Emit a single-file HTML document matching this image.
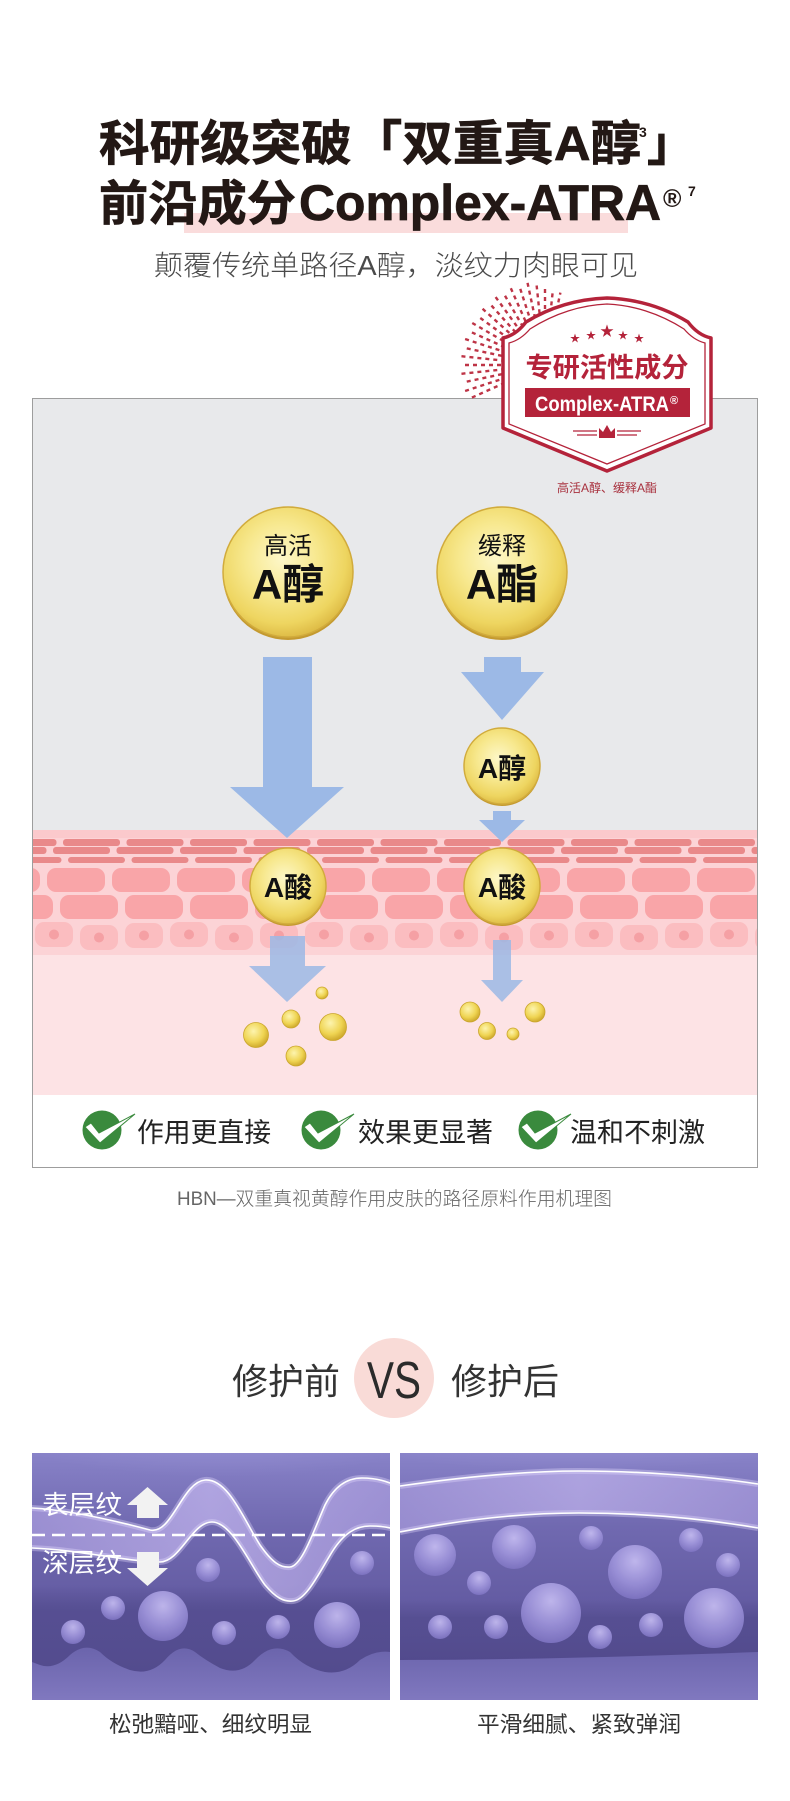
<!DOCTYPE html>
<html><head><meta charset="utf-8"><style>
html,body{margin:0;padding:0;background:#fff;}
body{width:790px;height:1801px;overflow:hidden;}
svg{display:block;}
</style></head><body>
<svg width="790" height="1801" viewBox="0 0 790 1801" xmlns="http://www.w3.org/2000/svg" font-family="'Liberation Sans','Noto Sans CJK SC',sans-serif">
<defs>
<radialGradient id="coin" cx="0.45" cy="0.4" r="0.62"><stop offset="0" stop-color="#fdf7c8"/><stop offset="0.45" stop-color="#f7e88e"/><stop offset="0.8" stop-color="#eed560"/><stop offset="1" stop-color="#dcb842"/></radialGradient>
<radialGradient id="drop" cx="0.4" cy="0.35" r="0.7"><stop offset="0" stop-color="#fdf4ae"/><stop offset="0.6" stop-color="#efd452"/><stop offset="1" stop-color="#c9a226"/></radialGradient>
<radialGradient id="bub" cx="0.5" cy="0.3" r="0.72"><stop offset="0" stop-color="#c6bdf2"/><stop offset="0.55" stop-color="#9d93da"/><stop offset="1" stop-color="#7c72c0"/></radialGradient>
<linearGradient id="bgP" x1="0" y1="0" x2="0" y2="1"><stop offset="0" stop-color="#8882c8"/><stop offset="0.3" stop-color="#7069b0"/><stop offset="0.62" stop-color="#635ba2"/><stop offset="0.8" stop-color="#6c65ad"/><stop offset="1" stop-color="#8078bf"/></linearGradient>
<linearGradient id="dark" x1="0" y1="0" x2="0" y2="1"><stop offset="0" stop-color="#514a8c" stop-opacity="0"/><stop offset="0.3" stop-color="#514a8c" stop-opacity="0.75"/><stop offset="1" stop-color="#4f4789" stop-opacity="0.9"/></linearGradient>
<linearGradient id="rib" x1="0" y1="0" x2="1" y2="0"><stop offset="0" stop-color="#a89bdc"/><stop offset="0.5" stop-color="#c0b3ec"/><stop offset="1" stop-color="#a89bdc"/></linearGradient>
<radialGradient id="glow" cx="0.5" cy="0" r="0.7"><stop offset="0" stop-color="#a6a0e0" stop-opacity="0.8"/><stop offset="1" stop-color="#a6a0e0" stop-opacity="0"/></radialGradient>
<pattern id="bricks" patternUnits="userSpaceOnUse" x="63" y="839" width="63.5" height="26">
<rect x="0" y="0" width="57" height="7" rx="3" fill="#e9898a"/>
<rect x="-10" y="8" width="57" height="7" rx="3" fill="#e9898a"/>
<rect x="53.5" y="8" width="57" height="7" rx="3" fill="#e9898a"/>
<rect x="5" y="18" width="57" height="6" rx="3" fill="#e9898a"/>
</pattern>
<pattern id="cells1" patternUnits="userSpaceOnUse" x="47" y="868" width="65" height="24"><rect x="0" y="0" width="58" height="24" rx="9" fill="#f9a5a8"/></pattern>
<pattern id="cells2" patternUnits="userSpaceOnUse" x="60" y="895" width="65" height="24"><rect x="0" y="0" width="58" height="24" rx="9" fill="#f9a5a8"/></pattern>
<pattern id="cells3" patternUnits="userSpaceOnUse" x="35" y="921" width="135" height="32">
<rect x="0" y="1" width="38" height="25" rx="9" fill="#fbbdc0"/><circle cx="19" cy="13.5" r="5" fill="#f5a0a4"/>
<rect x="45" y="4" width="38" height="25" rx="9" fill="#fbbdc0"/><circle cx="64" cy="16.5" r="5" fill="#f5a0a4"/>
<rect x="90" y="2" width="38" height="25" rx="9" fill="#fbbdc0"/><circle cx="109" cy="14.5" r="5" fill="#f5a0a4"/>
</pattern>
<clipPath id="cL"><rect x="32" y="1453" width="358" height="247"/></clipPath>
<clipPath id="cR"><rect x="400" y="1453" width="358" height="247"/></clipPath>
</defs>

<rect width="790" height="1801" fill="#fff"/>

<!-- Title -->
<g fill="#231815" stroke="#231815" stroke-width="0.7">
<text x="99" y="160" font-size="48" font-weight="700" textLength="542" lengthAdjust="spacingAndGlyphs">科研级突破「双重真A醇</text>
<text x="647" y="160" font-size="48" font-weight="700">」</text>
</g>
<text x="639" y="137" font-size="14" font-weight="700" fill="#231815">3</text>
<rect x="184" y="213" width="444" height="20" fill="#fadcdc"/>
<g fill="#231815" stroke="#231815" stroke-width="0.7">
<text x="99" y="220" font-size="48" font-weight="700" textLength="197" lengthAdjust="spacingAndGlyphs">前沿成分</text>
<text x="299" y="220" font-size="50" font-weight="700" textLength="362" lengthAdjust="spacingAndGlyphs">Complex-ATRA</text>
</g>
<text x="663" y="207" font-size="25" font-weight="700" fill="#231815">®</text>
<text x="688" y="196" font-size="14" font-weight="700" fill="#231815">7</text>
<text x="154" y="275" font-size="28" font-weight="300" fill="#4a4a4a" textLength="484" lengthAdjust="spacingAndGlyphs">颠覆传统单路径A醇，淡纹力肉眼可见</text>

<!-- Diagram box -->
<rect x="32" y="398" width="726" height="770" fill="#e8e9eb"/>
<rect x="32" y="830" width="726" height="130" fill="#fcd3d6"/>
<rect x="32" y="830" width="726" height="8" fill="#fbc9cc"/>
<rect x="32" y="955" width="726" height="140" fill="#fde3e5"/>
<rect x="32" y="839" width="726" height="26" fill="url(#bricks)"/>
<rect x="32" y="868" width="726" height="24" fill="url(#cells1)"/>
<rect x="32" y="895" width="726" height="24" fill="url(#cells2)"/>
<rect x="32" y="921" width="726" height="32" fill="url(#cells3)"/>
<rect x="32" y="1095" width="726" height="73" fill="#fff"/>
<rect x="32.5" y="398.5" width="725" height="769" fill="none" stroke="#9d9d9d" stroke-width="1"/>

<!-- Arrows -->
<g fill="#9cb9e6">
<rect x="263" y="657" width="49" height="132"/>
<polygon points="230,787 344,787 287,838"/>
<rect x="484" y="657" width="37" height="17"/>
<polygon points="461,672 544,672 502,720"/>
<rect x="493" y="811" width="18" height="11"/>
<polygon points="479,820 525,820 502,842"/>
</g>
<g fill="#9cb9e6" opacity="0.85">
<rect x="270" y="936" width="35" height="32"/>
<polygon points="249,966 326,966 287,1002"/>
<rect x="493" y="940" width="18" height="42"/>
<polygon points="481,980 523,980 502,1002"/>
</g>

<!-- Coins -->
<g stroke="#d1ab3c" stroke-width="1.5">
<circle cx="288" cy="575" r="65" fill="#c49a30" stroke="none"/>
<circle cx="288" cy="572" r="65" fill="url(#coin)"/>
<circle cx="502" cy="575" r="65" fill="#c49a30" stroke="none"/>
<circle cx="502" cy="572" r="65" fill="url(#coin)"/>
<circle cx="502" cy="768" r="38" fill="#c49a30" stroke="none"/>
<circle cx="502" cy="766" r="38" fill="url(#coin)"/>
<circle cx="288" cy="888" r="38" fill="#c49a30" stroke="none"/>
<circle cx="288" cy="886" r="38" fill="url(#coin)"/>
<circle cx="502" cy="888" r="38" fill="#c49a30" stroke="none"/>
<circle cx="502" cy="886" r="38" fill="url(#coin)"/>
</g>
<g fill="#111" text-anchor="middle">
<text x="288" y="554" font-size="24">高活</text>
<text x="288" y="599" font-size="42" font-weight="700">A醇</text>
<text x="502" y="554" font-size="24">缓释</text>
<text x="502" y="599" font-size="42" font-weight="700">A酯</text>
<text x="502" y="778" font-size="28" font-weight="700">A醇</text>
<text x="288" y="897" font-size="28" font-weight="700">A酸</text>
<text x="502" y="897" font-size="28" font-weight="700">A酸</text>
</g>

<!-- Droplets -->
<g fill="url(#drop)" stroke="#caa52c" stroke-width="0.8">
<circle cx="322" cy="993" r="6"/>
<circle cx="291" cy="1019" r="9"/>
<circle cx="256" cy="1035" r="12.5"/>
<circle cx="333" cy="1027" r="13.5"/>
<circle cx="296" cy="1056" r="10"/>
<circle cx="470" cy="1012" r="10"/>
<circle cx="535" cy="1012" r="10"/>
<circle cx="487" cy="1031" r="8.5"/>
<circle cx="513" cy="1034" r="6"/>
</g>

<!-- Checks -->
<g>
<g transform="translate(102 1130)"><circle r="19.5" fill="#3a8a3d"/><polygon points="-17,-3 -11,-7 -3,3 33,-16 -2,13" fill="#fff" stroke="#3a8a3d" stroke-width="1"/></g>
<g transform="translate(321 1130)"><circle r="19.5" fill="#3a8a3d"/><polygon points="-17,-3 -11,-7 -3,3 33,-16 -2,13" fill="#fff" stroke="#3a8a3d" stroke-width="1"/></g>
<g transform="translate(538 1130)"><circle r="19.5" fill="#3a8a3d"/><polygon points="-17,-3 -11,-7 -3,3 33,-16 -2,13" fill="#fff" stroke="#3a8a3d" stroke-width="1"/></g>
<g font-size="27" fill="#222">
<text x="137" y="1142" textLength="134" lengthAdjust="spacingAndGlyphs">作用更直接</text>
<text x="358" y="1142" textLength="135" lengthAdjust="spacingAndGlyphs">效果更显著</text>
<text x="570" y="1142" textLength="135" lengthAdjust="spacingAndGlyphs">温和不刺激</text>
</g>
</g>

<text x="177" y="1205" font-size="19" font-weight="300" fill="#666" textLength="435" lengthAdjust="spacingAndGlyphs">HBN—双重真视黄醇作用皮肤的路径原料作用机理图</text>

<!-- Badge burst -->
<g transform="translate(545 365)" stroke="#be3446" stroke-width="2.4">
<line x1="28" y1="0" x2="84" y2="0" stroke-dasharray="4 4" transform="rotate(156)"/>
<line x1="28" y1="0" x2="84" y2="0" stroke-dasharray="4 4" stroke-dashoffset="4" transform="rotate(162)"/>
<line x1="28" y1="0" x2="84" y2="0" stroke-dasharray="4 4" transform="rotate(168)"/>
<line x1="28" y1="0" x2="84" y2="0" stroke-dasharray="4 4" stroke-dashoffset="4" transform="rotate(174)"/>
<line x1="28" y1="0" x2="84" y2="0" stroke-dasharray="4 4" transform="rotate(180)"/>
<line x1="28" y1="0" x2="84" y2="0" stroke-dasharray="4 4" stroke-dashoffset="4" transform="rotate(186)"/>
<line x1="28" y1="0" x2="84" y2="0" stroke-dasharray="4 4" transform="rotate(192)"/>
<line x1="28" y1="0" x2="84" y2="0" stroke-dasharray="4 4" stroke-dashoffset="4" transform="rotate(198)"/>
<line x1="28" y1="0" x2="84" y2="0" stroke-dasharray="4 4" transform="rotate(204)"/>
<line x1="28" y1="0" x2="84" y2="0" stroke-dasharray="4 4" stroke-dashoffset="4" transform="rotate(210)"/>
<line x1="28" y1="0" x2="84" y2="0" stroke-dasharray="4 4" transform="rotate(216)"/>
<line x1="28" y1="0" x2="84" y2="0" stroke-dasharray="4 4" stroke-dashoffset="4" transform="rotate(222)"/>
<line x1="28" y1="0" x2="84" y2="0" stroke-dasharray="4 4" transform="rotate(228)"/>
<line x1="28" y1="0" x2="84" y2="0" stroke-dasharray="4 4" stroke-dashoffset="4" transform="rotate(234)"/>
<line x1="28" y1="0" x2="84" y2="0" stroke-dasharray="4 4" transform="rotate(240)"/>
<line x1="28" y1="0" x2="84" y2="0" stroke-dasharray="4 4" stroke-dashoffset="4" transform="rotate(246)"/>
<line x1="28" y1="0" x2="84" y2="0" stroke-dasharray="4 4" transform="rotate(252)"/>
<line x1="28" y1="0" x2="84" y2="0" stroke-dasharray="4 4" stroke-dashoffset="4" transform="rotate(258)"/>
<line x1="28" y1="0" x2="80" y2="0" stroke-dasharray="4 4" transform="rotate(264)"/>
<line x1="28" y1="0" x2="78" y2="0" stroke-dasharray="4 4" stroke-dashoffset="4" transform="rotate(270)"/>
<line x1="28" y1="0" x2="76" y2="0" stroke-dasharray="4 4" transform="rotate(276)"/>
<line x1="28" y1="0" x2="74" y2="0" stroke-dasharray="4 4" stroke-dashoffset="4" transform="rotate(282)"/>
</g>

<!-- Badge -->
<path d="M503,338 C512,336 520,330 526,322 C552,306 580,299 607,298 C634,299 662,306 688,322 C694,330 702,336 711,338 L711,428 L607,471 L503,428 Z" fill="#fff" stroke="#b4233a" stroke-width="3.5" stroke-linejoin="round"/>
<path d="M509,343 C517,341 524,336 530,329 C555,313 582,305 607,304 C632,305 659,313 684,329 C690,336 697,341 705,343 L705,424 L607,464 L509,424 Z" fill="none" stroke="#b4233a" stroke-width="1.3"/>
<g fill="#b4233a" text-anchor="middle">
<text x="575" y="342" font-size="10">★</text>
<text x="591" y="339" font-size="10">★</text>
<text x="607" y="336" font-size="14">★</text>
<text x="623" y="339" font-size="10">★</text>
<text x="639" y="342" font-size="10">★</text>
<text x="607" y="377" font-size="27" font-weight="700" textLength="163" lengthAdjust="spacingAndGlyphs">专研活性成分</text>
</g>
<rect x="525" y="388" width="165" height="29" fill="#b4233a"/>
<text x="535" y="411" font-size="21" font-weight="700" fill="#fff" textLength="134" lengthAdjust="spacingAndGlyphs">Complex-ATRA</text>
<text x="670" y="404" font-size="11" font-weight="700" fill="#fff">®</text>
<g stroke="#b4233a" stroke-width="1.3">
<line x1="573" y1="431" x2="597" y2="431"/><line x1="577" y1="435" x2="597" y2="435"/>
<line x1="617" y1="431" x2="641" y2="431"/><line x1="617" y1="435" x2="637" y2="435"/>
</g>
<polygon points="599,438 599,428 603,432 607,425 611,432 615,428 615,438" fill="#b4233a"/>
<text x="607" y="492" font-size="12" fill="#a8313e" text-anchor="middle">高活A醇、缓释A酯</text>

<!-- VS heading -->
<text x="232" y="1394" font-size="36" fill="#333" textLength="108" lengthAdjust="spacingAndGlyphs">修护前</text>
<circle cx="394" cy="1378" r="40" fill="#f9dbd7"/>
<text x="394" y="1398" font-size="52" font-weight="300" fill="#2b2b2b" text-anchor="middle" textLength="54" lengthAdjust="spacingAndGlyphs">VS</text>
<text x="451" y="1394" font-size="36" fill="#333" textLength="108" lengthAdjust="spacingAndGlyphs">修护后</text>

<!-- Left image -->
<g clip-path="url(#cL)">
<rect x="32" y="1453" width="358" height="247" fill="url(#bgP)"/>
<ellipse cx="220" cy="1453" rx="200" ry="60" fill="url(#glow)"/>
<path d="M32,1585 L390,1585 L390,1652 Q375,1650 360,1660 Q345,1675 325,1672 Q305,1668 290,1652 Q272,1642 255,1660 Q240,1676 220,1668 Q205,1660 195,1652 Q180,1642 165,1660 Q150,1676 130,1670 Q112,1664 100,1652 Q85,1642 70,1655 Q55,1670 40,1665 L32,1662 Z" fill="url(#dark)"/>
<g fill="url(#bub)" opacity="0.92">
<circle cx="208" cy="1570" r="12"/>
<circle cx="362" cy="1563" r="12"/>
<circle cx="113" cy="1608" r="12"/>
<circle cx="163" cy="1616" r="25"/>
<circle cx="73" cy="1632" r="12"/>
<circle cx="224" cy="1633" r="12"/>
<circle cx="278" cy="1627" r="12"/>
<circle cx="337" cy="1625" r="23"/>
</g>
<path d="M32,1508 C70,1510 120,1522 150,1530 C172,1535 182,1482 205,1480 C228,1478 244,1520 260,1545 C272,1562 280,1568 290,1567 C302,1566 314,1530 325,1505 C334,1487 346,1478 362,1478 C375,1478 385,1481 390,1483 L390,1528 C386,1527 380,1526 370,1526 C356,1526 344,1533 332,1552 C318,1575 306,1600 293,1601 C284,1602 276,1598 265,1585 C250,1565 232,1522 212,1522 C192,1522 180,1562 160,1562 C130,1562 80,1550 32,1548 Z" fill="url(#rib)" opacity="0.75"/>
<g fill="none" stroke-linecap="round">
<path d="M32,1508 C70,1510 120,1522 150,1530 C172,1535 182,1482 205,1480 C228,1478 244,1520 260,1545 C272,1562 280,1568 290,1567 C302,1566 314,1530 325,1505 C334,1487 346,1478 362,1478 C375,1478 385,1481 390,1483" stroke="#e6dcff" stroke-width="6" opacity="0.35"/>
<path d="M32,1548 C80,1550 130,1562 160,1562 C180,1562 192,1522 212,1522 C232,1522 250,1565 265,1585 C276,1598 284,1602 293,1601 C306,1600 318,1575 332,1552 C344,1533 356,1526 370,1526 C380,1526 386,1527 390,1528" stroke="#e6dcff" stroke-width="6" opacity="0.35"/>
<path d="M32,1508 C70,1510 120,1522 150,1530 C172,1535 182,1482 205,1480 C228,1478 244,1520 260,1545 C272,1562 280,1568 290,1567 C302,1566 314,1530 325,1505 C334,1487 346,1478 362,1478 C375,1478 385,1481 390,1483" stroke="#fff" stroke-width="1.6"/>
<path d="M32,1548 C80,1550 130,1562 160,1562 C180,1562 192,1522 212,1522 C232,1522 250,1565 265,1585 C276,1598 284,1602 293,1601 C306,1600 318,1575 332,1552 C344,1533 356,1526 370,1526 C380,1526 386,1527 390,1528" stroke="#fff" stroke-width="1.6"/>
</g>
<line x1="32" y1="1535" x2="390" y2="1535" stroke="#fff" stroke-width="2.5" stroke-dasharray="13 7"/>
<g fill="#fff" font-size="26">
<text x="42" y="1514" textLength="80" lengthAdjust="spacingAndGlyphs">表层纹</text>
<text x="42" y="1572" textLength="80" lengthAdjust="spacingAndGlyphs">深层纹</text>
</g>
<g fill="#f2f2f2">
<polygon points="127,1505 168,1505 147.5,1487"/><rect x="137" y="1504" width="22" height="14"/>
<rect x="137" y="1552" width="22" height="17"/><polygon points="127,1568 168,1568 147.5,1586"/>
</g>
</g>

<!-- Right image -->
<g clip-path="url(#cR)">
<rect x="400" y="1453" width="358" height="247" fill="url(#bgP)"/>
<ellipse cx="579" cy="1453" rx="220" ry="45" fill="url(#glow)"/>
<path d="M400,1600 L758,1600 L758,1652 C650,1656 520,1660 400,1660 Z" fill="url(#dark)"/>
<g fill="url(#bub)" opacity="0.92">
<circle cx="435" cy="1555" r="21"/>
<circle cx="514" cy="1547" r="22"/>
<circle cx="591" cy="1538" r="12"/>
<circle cx="691" cy="1540" r="12"/>
<circle cx="728" cy="1565" r="12"/>
<circle cx="635" cy="1572" r="27"/>
<circle cx="479" cy="1583" r="12"/>
<circle cx="551" cy="1613" r="30"/>
<circle cx="714" cy="1618" r="30"/>
<circle cx="440" cy="1627" r="12"/>
<circle cx="496" cy="1627" r="12"/>
<circle cx="600" cy="1637" r="12"/>
<circle cx="651" cy="1625" r="12"/>
</g>
<path d="M400,1486 C470,1476 530,1471 579,1471 C630,1471 700,1475 758,1484 L758,1528 C700,1518 640,1513 579,1513 C520,1513 460,1520 400,1532 Z" fill="url(#rib)" opacity="0.7"/>
<g fill="none">
<path d="M400,1486 C470,1476 530,1471 579,1471 C630,1471 700,1475 758,1484" stroke="#e6dcff" stroke-width="6" opacity="0.35"/>
<path d="M400,1532 C460,1520 520,1513 579,1513 C640,1513 700,1518 758,1528" stroke="#e6dcff" stroke-width="6" opacity="0.35"/>
<path d="M400,1486 C470,1476 530,1471 579,1471 C630,1471 700,1475 758,1484" stroke="#fff" stroke-width="1.6"/>
<path d="M400,1532 C460,1520 520,1513 579,1513 C640,1513 700,1518 758,1528" stroke="#fff" stroke-width="1.6"/>
</g>
</g>

<g font-size="22" fill="#333">
<text x="109" y="1732" textLength="203" lengthAdjust="spacingAndGlyphs">松弛黯哑、细纹明显</text>
<text x="477" y="1732" textLength="204" lengthAdjust="spacingAndGlyphs">平滑细腻、紧致弹润</text>
</g>
</svg>
</body></html>
